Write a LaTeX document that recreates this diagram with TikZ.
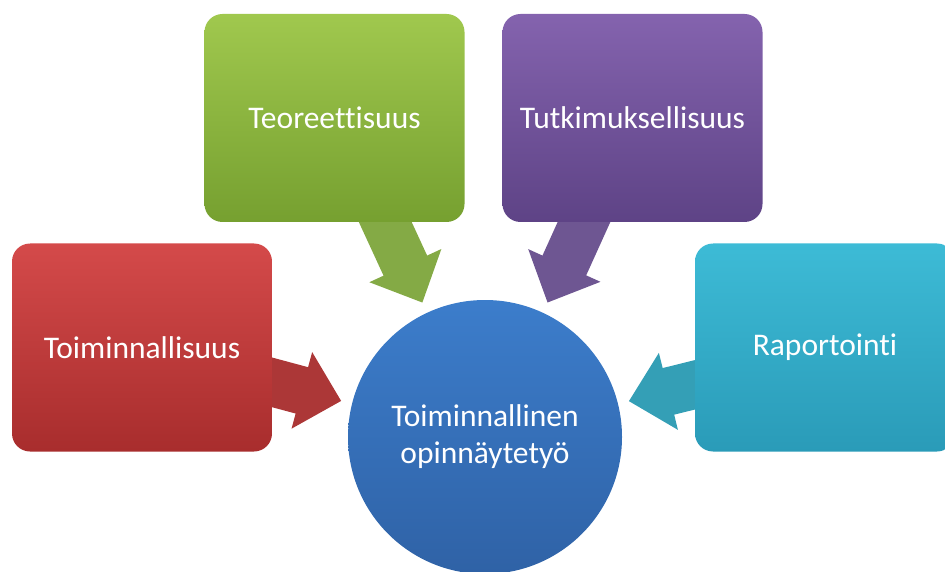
\documentclass[tikz,border=0pt]{standalone}
\usepackage{fontspec}
\setmainfont{Carlito}[Ligatures=NoCommon]
\usetikzlibrary{arrows.meta,backgrounds}

\definecolor{redtop}{HTML}{D44A4A}
\definecolor{redbot}{HTML}{A82D2D}
\definecolor{greentop}{HTML}{A0C84E}
\definecolor{greenbot}{HTML}{76A030}
\definecolor{purptop}{HTML}{8463AE}
\definecolor{purpbot}{HTML}{5E4386}
\definecolor{cyantop}{HTML}{3DBBD6}
\definecolor{cyanbot}{HTML}{2A9BB8}
\definecolor{bluetop}{HTML}{3C7DCB}
\definecolor{bluebot}{HTML}{2F62A6}

\begin{document}
\begin{tikzpicture}[x=1pt,y=-1pt,
  every node/.style={font=\fontsize{31.5}{37}\selectfont,text=white},
  box/.style={rounded corners=18pt,minimum width=260pt,minimum height=208pt,align=center},
  fat/.style={line width=48pt,-{Triangle[length=0pt 0.85,width=0pt 1.6]},
    shorten <=-20pt,shorten >=11pt}
]
  \clip (0,0) rectangle (945,572);

  \node[box,top color=redtop,bottom color=redbot] (toim) at (142,347.5)
    {Toiminnallisuus};
  \node[box,top color=greentop,bottom color=greenbot] (teor) at (334.5,118)
    {Teoreettisuus};
  \node[box,top color=purptop,bottom color=purpbot] (tutk) at (632.5,118)
    {Tutkimuksellisuus};
  \node[box,top color=cyantop,bottom color=cyanbot] (rap) at (825,347.5)
    {Raportointi};
  \node[circle,minimum size=274pt,inner sep=0pt,align=center,
    top color=bluetop,bottom color=bluebot] (ont) at (485,437)
    {Toiminnallinen\\opinnäytetyö};

  \begin{pgfonlayer}{background}
    \draw[fat,draw=redbot!95!white] (toim.-15) -- (ont.166);
    \draw[fat,draw=greenbot!90!white] (teor.-64) -- (ont.115);
    \draw[fat,draw=purpbot!90!white] (tutk.245.5) -- (ont.65);
    \draw[fat,draw=cyantop!85!black] (rap.196) -- (ont.14.5);
  \end{pgfonlayer}
\end{tikzpicture}
\end{document}
